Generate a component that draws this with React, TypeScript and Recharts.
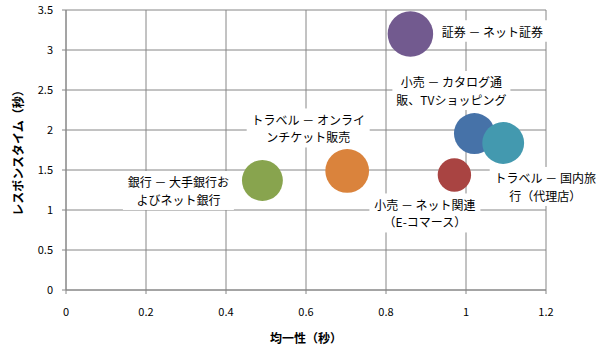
import {
  ScatterChart,
  Scatter,
  XAxis,
  YAxis,
  ZAxis,
  CartesianGrid,
} from 'recharts';

const categories = [
  '証券 － ネット証券',
  '小売 － カタログ通販、TVショッピング',
  'トラベル － 国内旅行（代理店）',
  '小売 － ネット関連（E-コマース）',
  'トラベル － オンラインチケット販売',
  '銀行 － 大手銀行およびネット銀行',
];
const uniformity = [0.861, 1.021, 1.093, 0.971, 0.703, 0.491];
const responseTime = [3.2, 1.956, 1.838, 1.438, 1.488, 1.369];
const bubbleSize = [5.2, 4.2, 4.4, 2.8, 4.8, 4.2];
const labelLines = [
  ['証券 － ネット証券'],
  ['小売 － カタログ通', '販、TVショッピング'],
  ['トラベル － 国内旅', '行（代理店）'],
  ['小売 － ネット関連', '（E-コマース）'],
  ['トラベル － オンライ', 'ンチケット販売'],
  ['銀行 － 大手銀行お', 'よびネット銀行'],
];
const xTicks = [0, 0.2, 0.4, 0.6, 0.8, 1, 1.2];
const yTicks = [0, 0.5, 1, 1.5, 2, 2.5, 3, 3.5];

// styling only
const colors = ['#725a8f', '#4672a8', '#4399af', '#a94442', '#da833c', '#88a44e'];
const labelOffset = [
  [82, -3],
  [-23, -43],
  [42, 43.5],
  [-29.5, 38],
  [-39, -43],
  [-84, 10],
];

const data = categories.map((name, i) => ({
  name,
  x: uniformity[i],
  y: responseTime[i],
  z: bubbleSize[i],
  i,
}));

const FONT = '"Noto Sans CJK JP", "Noto Sans", sans-serif';
const GRID = '#868686';
const maxZ = Math.max(...bubbleSize);
const maxR = 22.75;

function textWidth(s: string) {
  let w = 0;
  for (const ch of s) {
    const c = ch.charCodeAt(0);
    if (ch === ' ') w += 3.5;
    else if (c < 128) w += 7;
    else w += 12;
  }
  return w;
}

function Bubble(props: any) {
  const { cx, cy, width, payload } = props;
  const i = payload.i;
  const r = width / 2;
  const lines = labelLines[i];
  const lx = cx + labelOffset[i][0];
  const ly = cy + labelOffset[i][1];
  const lh = 17.5;
  const w = Math.max(...lines.map(textWidth)) + 8;
  const h = lines.length * lh + 4;
  return (
    <g>
      <circle cx={cx} cy={cy} r={r} fill={colors[i]} />
      <rect x={lx - w / 2} y={ly - h / 2} width={w} height={h} fill="#fff" />
      {lines.map((t, k) => (
        <text
          key={k}
          x={lx}
          y={ly + (k - (lines.length - 1) / 2) * lh}
          textAnchor="middle"
          dominantBaseline="central"
          fontSize={12}
          fontFamily={FONT}
          fill="#000"
        >
          {t}
        </text>
      ))}
    </g>
  );
}

export default function App() {
  return (
    <div style={{ position: 'absolute', left: 0, top: 0, background: '#fff' }}>
      <ScatterChart
        width={600}
        height={359}
        margin={{ top: 10, right: 54, bottom: 0, left: 0 }}
      >
        <CartesianGrid stroke={GRID} ticks={undefined} />
        <XAxis
          type="number"
          dataKey="x"
          domain={[0, 1.2]}
          ticks={xTicks}
          height={69}
          tickSize={4}
          tickMargin={14}
          stroke={GRID}
          tick={{ fill: '#000', fontSize: 11, fontFamily: FONT }}
          label={{
            content: () => (
              <text
                x={306}
                y={337}
                textAnchor="middle"
                dominantBaseline="central"
                fontSize={12}
                fontWeight="bold"
                fontFamily={FONT}
                fill="#000"
              >
                均一性（秒）
              </text>
            ),
          }}
        />
        <YAxis
          type="number"
          dataKey="y"
          domain={[0, 3.5]}
          ticks={yTicks}
          width={66}
          tickSize={4}
          tickMargin={9}
          stroke={GRID}
          tick={{ fill: '#000', fontSize: 11, fontFamily: FONT }}
          label={{
            content: () => (
              <text
                x={17}
                y={150}
                transform="rotate(-90 17 150)"
                textAnchor="middle"
                dominantBaseline="central"
                fontSize={12}
                fontWeight="bold"
                fontFamily={FONT}
                fill="#000"
              >
                レスポンスタイム（秒）
              </text>
            ),
          }}
        />
        <ZAxis
          type="number"
          dataKey="z"
          domain={[0, maxZ]}
          range={[0, Math.PI * maxR * maxR]}
        />
        <Scatter data={data} shape={Bubble} isAnimationActive={false} />
      </ScatterChart>
    </div>
  );
}
